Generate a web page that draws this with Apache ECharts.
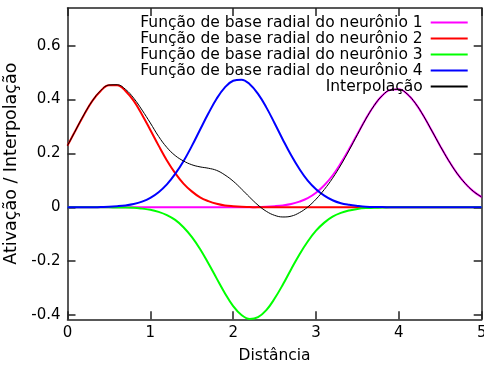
<!DOCTYPE html>
<html>
<head>
<meta charset="utf-8">
<script src="https://cdn.jsdelivr.net/npm/echarts@6/dist/echarts.min.js"></script>
<style>
  html, body { margin: 0; padding: 0; background: #ffffff; }
  #chart { width: 484px; height: 366px; }
</style>
</head>
<body>
<div id="chart"></div>
<script>
// Distância (eixo x), amostrada de 0 a 5
const distancia = [
  0.0, 0.1, 0.2, 0.3, 0.4, 0.5, 0.6, 0.7, 0.8, 0.9,
  1.0, 1.1, 1.2, 1.3, 1.4, 1.5, 1.6, 1.7, 1.8, 1.9,
  2.0, 2.1, 2.2, 2.3, 2.4, 2.5, 2.6, 2.7, 2.8, 2.9,
  3.0, 3.1, 3.2, 3.3, 3.4, 3.5, 3.6, 3.7, 3.8, 3.9,
  4.0, 4.1, 4.2, 4.3, 4.4, 4.5, 4.6, 4.7, 4.8, 4.9,
  5.0
];

// Ativação de cada neurônio
const neuronio1 = [
  0, 0, 0, 0, 0, 0, 0, 0, 0, 0,
  0, 0, 0, 0, 0, 0, 0, 0, 0, 0,
  0.000, 0.000, 0.000, 0.001, 0.002, 0.004, 0.007, 0.012, 0.021, 0.034,
  0.054, 0.082, 0.118, 0.164, 0.216, 0.272, 0.328, 0.377, 0.415, 0.436,
  0.438, 0.421, 0.386, 0.338, 0.283, 0.227, 0.174, 0.127, 0.089, 0.059,
  0.038
];
const neuronio2 = [
  0.229, 0.287, 0.344, 0.395, 0.432, 0.453, 0.453, 0.432, 0.395, 0.344,
  0.287, 0.229, 0.174, 0.127, 0.088, 0.059, 0.037, 0.023, 0.013, 0.007,
  0.004, 0.002, 0.001, 0.000, 0.000, 0.000, 0, 0, 0, 0,
  0, 0, 0, 0, 0, 0, 0, 0, 0, 0,
  0, 0, 0, 0, 0, 0, 0, 0, 0, 0,
  0
];
const neuronio3 = [
  0, 0, 0, 0, 0.000, 0.000, -0.001, -0.001, -0.002, -0.005,
  -0.009, -0.017, -0.029, -0.047, -0.074, -0.110, -0.155, -0.208, -0.264, -0.319,
  -0.367, -0.400, -0.415, -0.408, -0.382, -0.339, -0.287, -0.230, -0.175, -0.127,
  -0.087, -0.057, -0.035, -0.021, -0.012, -0.006, -0.003, -0.002, -0.001, 0.000,
  0, 0, 0, 0, 0, 0, 0, 0, 0, 0,
  0
];
const neuronio4 = [
  0.000, 0.000, 0.000, 0.000, 0.001, 0.002, 0.004, 0.007, 0.012, 0.021,
  0.035, 0.056, 0.085, 0.124, 0.171, 0.227, 0.288, 0.348, 0.403, 0.445,
  0.470, 0.474, 0.457, 0.421, 0.371, 0.312, 0.251, 0.193, 0.142, 0.099,
  0.067, 0.043, 0.026, 0.015, 0.009, 0.005, 0.002, 0.001, 0.001, 0.000,
  0.000, 0, 0, 0, 0, 0, 0, 0, 0, 0,
  0
];
// Saída da rede (interpolação)
const interpolacao = [
  0.229, 0.287, 0.345, 0.395, 0.433, 0.454, 0.455, 0.438, 0.405, 0.361,
  0.313, 0.263, 0.222, 0.192, 0.172, 0.158, 0.150, 0.145, 0.137, 0.120,
  0.097, 0.068, 0.037, 0.008, -0.015, -0.030, -0.036, -0.033, -0.020, 0.001,
  0.030, 0.066, 0.108, 0.157, 0.212, 0.270, 0.327, 0.377, 0.415, 0.436,
  0.438, 0.421, 0.386, 0.338, 0.283, 0.227, 0.174, 0.127, 0.089, 0.059,
  0.038
];

const yTicks = [-0.4, -0.2, 0, 0.2, 0.4, 0.6];

const FONT = 'DejaVu Sans';
const frameLine = { color: '#222', width: 1.5 };
const tickLine = { color: '#222', width: 1.5 };

function pares(ys) {
  return distancia.map((x, i) => [x, ys[i]]);
}

function curva(nome, ys, cor, largura) {
  return {
    name: nome,
    type: 'line',
    xAxisIndex: 0,
    yAxisIndex: 0,
    data: pares(ys),
    smooth: 0.4,
    symbol: 'none',
    showSymbol: false,
    lineStyle: { color: cor, width: largura },
    itemStyle: { color: cor },
    clip: true
  };
}

const chart = echarts.init(document.getElementById('chart'), null, { renderer: 'canvas' });

chart.setOption({
  animation: false,
  backgroundColor: '#ffffff',
  textStyle: { fontFamily: FONT },
  grid: {
    left: 67.5, right: 2.3, top: 8, bottom: 46.7,
    containLabel: false,
    outerBoundsMode: 'none'
  },
  legend: {
    orient: 'vertical',
    align: 'right',
    right: 16.3,
    top: 14.5,
    icon: 'rect',
    itemWidth: 37,
    itemHeight: 2,
    itemGap: 0,
    padding: 0,
    selectedMode: false,
    textStyle: { fontFamily: FONT, fontSize: 15.5, lineHeight: 15.6, color: '#000', padding: [0, 3, 0, 0] },
    data: [
      'Função de base radial do neurônio 1',
      'Função de base radial do neurônio 2',
      'Função de base radial do neurônio 3',
      'Função de base radial do neurônio 4',
      'Interpolação'
    ]
  },
  xAxis: [
    {
      type: 'value', min: 0, max: 5, interval: 1, position: 'bottom',
      name: 'Distância', nameLocation: 'middle', nameGap: 29,
      nameTextStyle: { fontFamily: FONT, fontSize: 15.5, color: '#000' },
      axisLine: { show: true, onZero: false, lineStyle: frameLine },
      axisTick: { show: true, inside: true, length: 8, lineStyle: tickLine },
      axisLabel: { fontFamily: FONT, fontSize: 15, color: '#000', margin: 6 },
      splitLine: { show: false }
    },
    {
      type: 'value', min: 0, max: 5, interval: 1, position: 'top',
      axisLine: { show: true, onZero: false, lineStyle: frameLine },
      axisTick: { show: true, inside: true, length: 8, lineStyle: tickLine },
      axisLabel: { show: false },
      splitLine: { show: false }
    }
  ],
  yAxis: [
    {
      type: 'value', min: -0.416, max: 0.74, position: 'left',
      name: 'Ativação / Interpolação', nameLocation: 'middle', nameGap: 41,
      nameTextStyle: { fontFamily: FONT, fontSize: 17.5, color: '#000' },
      axisLine: { show: true, onZero: false, lineStyle: frameLine },
      axisTick: { show: true, inside: true, length: 8, lineStyle: tickLine, customValues: yTicks },
      axisLabel: { fontFamily: FONT, fontSize: 15, color: '#000', margin: 7, customValues: yTicks },
      splitLine: { show: false }
    },
    {
      type: 'value', min: -0.416, max: 0.74, position: 'right',
      axisLine: { show: true, onZero: false, lineStyle: frameLine },
      axisTick: { show: true, inside: true, length: 8, lineStyle: tickLine, customValues: yTicks },
      axisLabel: { show: false },
      splitLine: { show: false }
    }
  ],
  series: [
    curva('Função de base radial do neurônio 1', neuronio1, '#ff00ff', 2),
    curva('Função de base radial do neurônio 2', neuronio2, '#ff0000', 2),
    curva('Função de base radial do neurônio 3', neuronio3, '#00ff00', 2),
    curva('Função de base radial do neurônio 4', neuronio4, '#0000ff', 2),
    curva('Interpolação', interpolacao, '#000000', 1)
  ]
});
</script>
</body>
</html>
